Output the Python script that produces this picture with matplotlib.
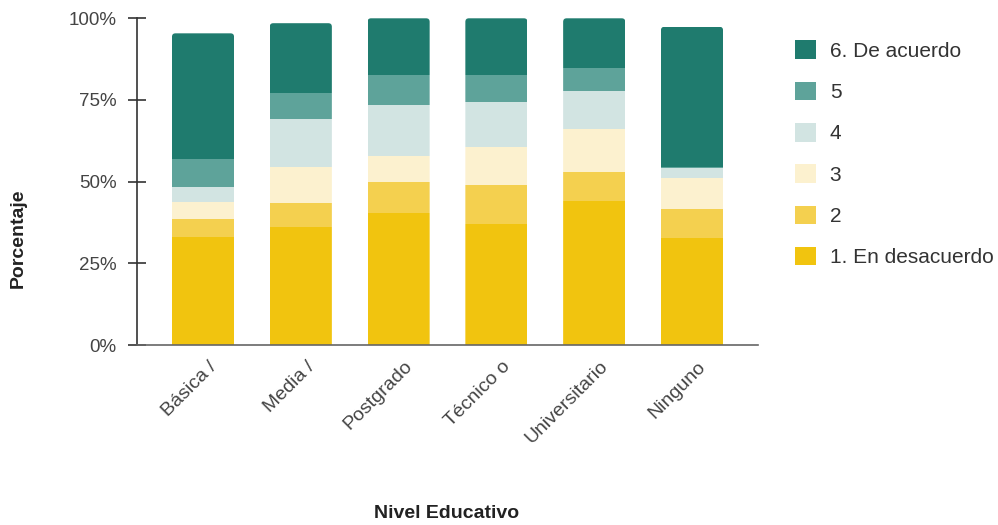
import matplotlib
matplotlib.use("Agg")
import matplotlib.pyplot as plt
import matplotlib.transforms as mtransforms
from matplotlib.patches import Patch, FancyBboxPatch
import numpy as np

plt.rcParams['font.family'] = ['Liberation Sans', 'DejaVu Sans']

categories = ["Básica /", "Media /", "Postgrado", "Técnico o", "Universitario", "Ninguno"]
series_names = ["1. En desacuerdo", "2", "3", "4", "5", "6. De acuerdo"]

# share of answers (%) for each level of agreement, per education level
s1 = [33.2, 36.0, 40.3, 37.0, 44.2, 32.8]
s2 = [5.4, 7.6, 9.5, 12.0, 8.8, 8.7]
s3 = [5.1, 10.8, 8.1, 11.7, 13.0, 9.5]
s4 = [4.6, 14.8, 15.6, 13.8, 11.7, 3.1]
s5 = [8.6, 7.9, 9.1, 8.1, 7.0, 0.5]
s6 = [38.5, 21.4, 17.4, 17.4, 15.3, 42.8]

series = [s1, s2, s3, s4, s5, s6]
colors = ["#f1c40f", "#f4d04f", "#fcf1cf", "#d2e4e2", "#5ea39a", "#1f7b6e"]

W, H = 998, 525
fig = plt.figure(figsize=(W / 100, H / 100), dpi=100)
ax_l, ax_r, ax_t, ax_b = 137, 758, 18.3, 345
ax = fig.add_axes([ax_l / W, 1 - ax_b / H, (ax_r - ax_l) / W, (ax_b - ax_t) / H])

xmin, xmax = -0.675, 5.675
ax.set_xlim(xmin, xmax)
ax.set_ylim(0, 1)

x = np.arange(len(categories))
bar_w = 0.635
bottom = np.zeros(len(categories))
containers = []
for vals, col in zip(series, colors):
    v = np.array(vals) / 100.0
    bc = ax.bar(x, v, bottom=bottom, width=bar_w, color=col, edgecolor='none', zorder=2)
    containers.append(bc)
    bottom += v

# rounded top corners: clip each stacked column with a rounded box
px_x = (xmax - xmin) / (ax_r - ax_l)
px_y = 1.0 / (ax_b - ax_t)
radius = 3.5 * px_x
for i, xi in enumerate(x):
    clip = FancyBboxPatch((xi - bar_w / 2, -0.05), bar_w, bottom[i] + 0.05,
                          boxstyle=f"round,pad=0,rounding_size={radius}",
                          mutation_aspect=px_y / px_x, transform=ax.transData)
    for bc in containers:
        bc.patches[i].set_clip_path(clip)

ax.set_yticks([0, 0.25, 0.5, 0.75, 1.0])
ax.set_yticklabels(["0%", "25%", "50%", "75%", "100%"])

for side in ("top", "right"):
    ax.spines[side].set_visible(False)
ax.spines['left'].set_color('#333333')
ax.spines['left'].set_linewidth(1.2)
ax.spines['bottom'].set_color('#666666')
ax.spines['bottom'].set_linewidth(1.2)
ax.spines['left'].set_zorder(3)
ax.spines['bottom'].set_zorder(3)

ax.tick_params(axis='y', direction='inout', length=13, width=1.2, color='#333333',
               labelsize=13.5, labelcolor='#444444', pad=8)
ax.tick_params(axis='x', length=0, pad=0, labelsize=14, labelcolor='#444444')

ax.set_xticks(x)
ax.set_xticklabels(categories, rotation=45, ha='right', va='top', rotation_mode='anchor')
offset = mtransforms.ScaledTranslation(5 / 100, -13 / 100, fig.dpi_scale_trans)
for lbl in ax.get_xticklabels():
    lbl.set_transform(lbl.get_transform() + offset)

fig.text(18 / W, 1 - 238 / H, "Porcentaje", rotation=90, ha='center', va='center',
         fontsize=14, fontweight='bold', color='#222222')
fig.text(447 / W, 1 - 513 / H, "Nivel Educativo", ha='center', va='center',
         fontsize=14, fontweight='bold', color='#222222')

handles = [Patch(facecolor=c, edgecolor='none') for c in colors[::-1]]
leg = fig.legend(handles, series_names[::-1], loc='upper left',
                 bbox_to_anchor=(787 / W, 1 - 32 / H), frameon=False,
                 fontsize=15, handlelength=1.0, handleheight=1.0,
                 handletextpad=0.65, labelspacing=1.0, borderaxespad=0)
for t in leg.get_texts():
    t.set_color('#333333')

fig.savefig("out.png", dpi=100, facecolor='white')
